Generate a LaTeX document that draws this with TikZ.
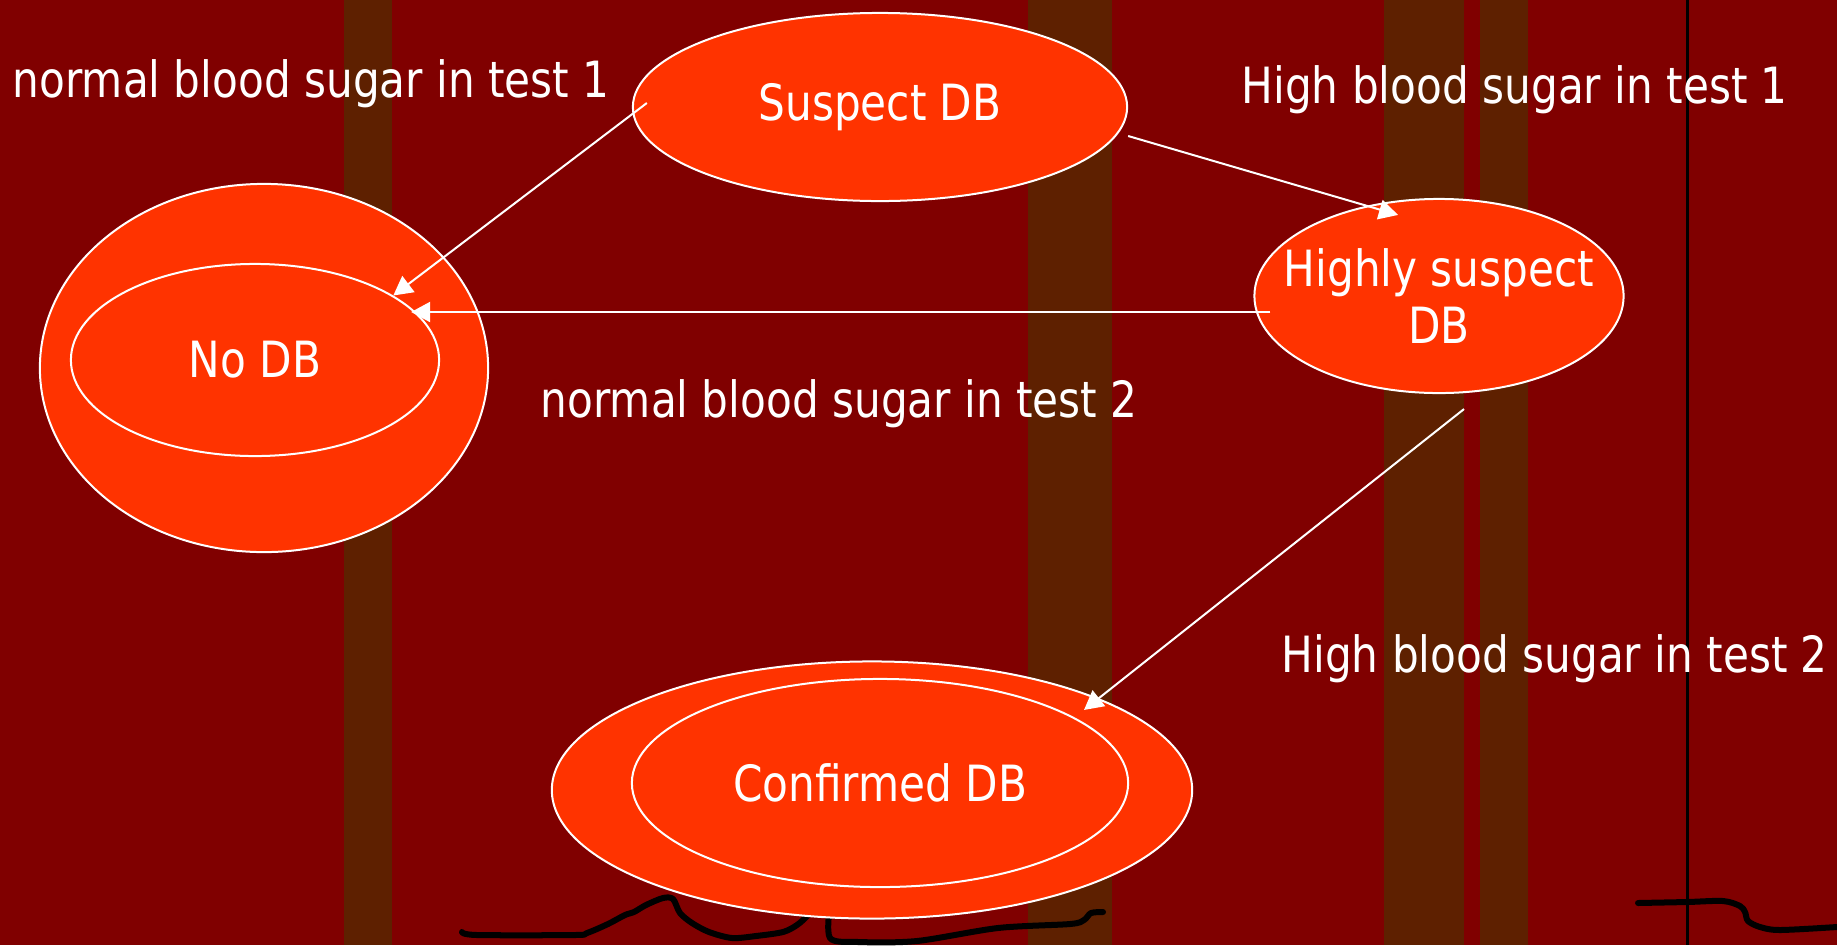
\documentclass[tikz,border=0pt]{standalone}
\usepackage{fontspec}
\setmainfont[FakeStretch=0.845]{DejaVu Sans}
\definecolor{slidebg}{RGB}{128,0,0}
\definecolor{stripe}{RGB}{94,32,0}
\definecolor{flame}{RGB}{255,51,0}
\usetikzlibrary{arrows.meta,calc,shapes.geometric}

\begin{document}
\begin{tikzpicture}[x=0.01cm,y=-0.01cm,
   every node/.style={font=\fontsize{14.2}{16.2}\selectfont},
   state/.style={ellipse,draw=white,line width=0.02cm,fill=flame,text=white,inner sep=0pt},
   lbl/.style={text=white,anchor=base west,inner sep=0pt},
   arr/.style={draw=white,line width=0.02cm,-{Triangle[length=0.19cm,width=0.2cm]}},
   scrib/.style={line width=0.06cm,black,line join=round,line cap=round}]
   \path[use as bounding box,clip] (0,0) rectangle (1837,945);
   % slide background
   \fill[slidebg] (0,0) rectangle (1837,945);
   \foreach \a/\b in {344/392,1028/1112,1384/1464,1480/1528}
      \fill[stripe] (\a,0) rectangle (\b,945);
   \draw[black,line width=0.03cm] (1687,0) -- (1687,945);
   % pen marks
   \draw[scrib] plot[smooth,tension=0.5] coordinates {(462,932) (477,935) (575,935) (587,933) (608,924) (625,915) (634,912) (646,905) (663,898) (673,899) (680,913) (692,923) (709,932) (732,938) (756,936) (783,932) (797,925) (807,916) (815,905)};
   \draw[scrib] plot[smooth,tension=0.5] coordinates {(830,905) (830,938) (859,942) (917,941) (998,928) (1070,924) (1084,920) (1091,913) (1103,912)};
   \draw[scrib] plot[smooth,tension=0.5] coordinates {(1638,903) (1687,902) (1723,901) (1740,906) (1745,912) (1748,921) (1760,927) (1780,930) (1837,927)};
   % states
   \node[state,minimum width=4.94cm,minimum height=1.88cm] (suspect) at (880,107) {Suspect DB};
   \node[state,minimum width=4.48cm,minimum height=3.68cm] (nodbout) at (264,368) {};
   \node[state,minimum width=3.68cm,minimum height=1.92cm] (nodb) at (255,360) {No DB};
   \node[state,minimum width=3.69cm,minimum height=1.94cm,inner sep=-0.3cm,align=center] (highsus) at (1439,296) {Highly suspect\\DB};
   \node[state,minimum width=6.40cm,minimum height=2.57cm] (confout) at (872,790) {};
   \node[state,minimum width=4.96cm,minimum height=2.08cm] (confirmed) at (880,783) {Confirmed DB};
   % transitions
   \draw[arr] ($(suspect.west)+(15,-4)$) -- (nodb.25);
   \draw[arr] ($(suspect.east)+(0,29)$) -- ($(highsus.north)+(-41,17)$);
   \draw[arr] ($(highsus.west)+(17,16)$) -- ($(nodb.east)+(-29,-48)$);
   \draw[arr] ($(highsus.south)+(25,15)$) -- ($(confirmed.north)+(204,32)$);
   % test results
   \node[lbl] (lowone) at (12,97) {normal blood sugar in test 1};
   \node[lbl] (highone) at (1241,103) {High blood sugar in test 1};
   \node[lbl] (lowtwo) at (540,417) {normal blood sugar in test 2};
   \node[lbl] (hightwo) at (1281,672) {High blood sugar in test 2};
\end{tikzpicture}
\end{document}
